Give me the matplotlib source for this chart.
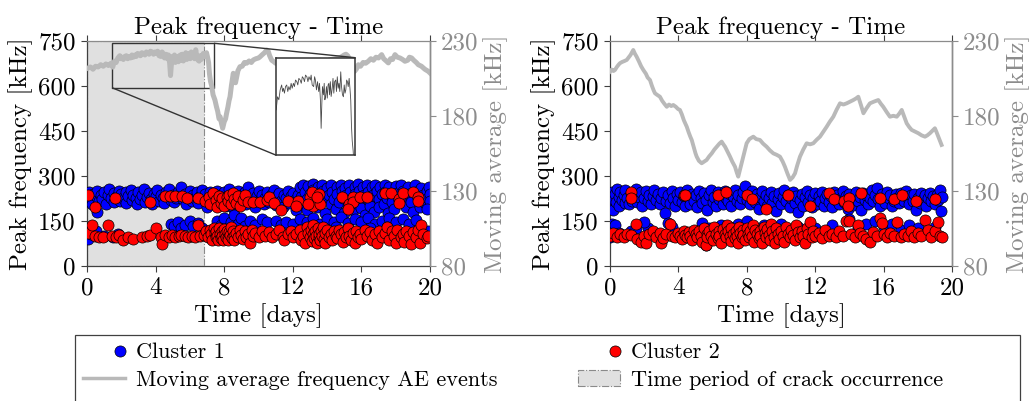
import numpy as np
import matplotlib
matplotlib.use("Agg")
import matplotlib.pyplot as plt
from matplotlib.lines import Line2D
from matplotlib.patches import Patch, Rectangle
from matplotlib.legend_handler import HandlerLine2D
from mpl_toolkits.axes_grid1.inset_locator import mark_inset

plt.rcParams['font.family'] = ['cmr10', 'DejaVu Serif']
plt.rcParams['axes.unicode_minus'] = False

# ---------------- data ----------------
x_ticks = [0, 4, 8, 12, 16, 20]
left_ticks = [0, 150, 300, 450, 600, 750]
right_ticks = [80, 130, 180, 230]
crack_period = [0.0, 6.8]
inset_xlim = [1.46, 7.4]
inset_ylim = [198.7, 228.3]

# Left panel, cluster 1 (blue)
left_c1 = [
    (0.0,230),(0.05,215),(0.1,245),(0.2,225),(0.3,205),(0.35,240),(0.5,232),(0.6,250),(0.7,215),(0.8,238),
    (0.9,222),(1.0,248),(1.1,208),(1.2,235),(1.3,255),(1.4,225),(1.55,242),(1.6,212),(1.7,230),(1.85,250),
    (1.9,218),(2.0,240),(2.1,226),(2.25,210),(2.3,245),(2.4,232),(2.55,252),(2.6,220),(2.7,238),(2.85,228),
    (2.9,208),(3.0,248),(3.1,222),(3.2,236),(3.35,255),(3.4,214),(3.5,230),(3.6,244),(3.75,224),(3.8,205),
    (3.9,240),(4.0,232),(4.1,252),(4.2,218),(4.3,238),(4.45,226),(4.5,210),(4.6,246),(4.7,232),(4.8,255),
    (4.9,220),(5.0,238),(5.1,212),(5.2,228),(5.3,248),(5.4,232),(5.5,262),(5.6,222),(5.7,240),(5.8,205),
    (5.9,230),(6.0,250),(6.1,218),(6.2,236),(6.3,226),(6.4,246),(6.5,210),(6.6,232),(6.7,252),(6.8,222),
    (6.9,240),(7.0,196),(7.1,230),(7.2,248),(7.3,210),(7.4,236),(7.5,222),(7.6,250),(7.7,205),(7.8,238),
    (7.9,228),(8.0,245),(8.1,200),(8.2,232),(8.3,255),(8.4,218),(8.5,240),(8.6,190),(8.7,228),(8.8,250),
    (8.9,214),(9.0,236),(9.1,224),(9.2,246),(9.3,205),(9.4,262),(9.5,230),(9.6,216),(9.7,242),(9.8,198),
    (9.9,232),(10.0,250),(10.1,220),(10.2,238),(10.3,208),(10.4,228),(10.5,248),(10.6,214),(10.7,236),(10.8,224),
    (10.9,252),(11.0,204),(11.1,232),(11.2,242),(11.3,218),(11.4,196),(11.5,238),(11.6,226),(11.7,250),(11.8,210),
    (11.9,234),(12.0,244),(12.1,220),(12.2,186),(12.3,238),
    (12.4,262),(12.5,230),(12.55,205),(12.6,270),(12.7,248),(12.8,222),(12.85,185),(12.9,265),(13.0,240),(13.1,212),
    (13.15,272),(13.2,252),(13.3,228),(13.4,195),(13.45,262),(13.5,240),(13.6,215),(13.7,268),(13.75,250),(13.8,228),
    (13.9,178),(14.0,260),(14.1,238),(14.2,205),(14.25,270),(14.3,248),(14.4,222),(14.5,190),(14.55,262),(14.6,240),
    (14.7,212),(14.8,270),(14.85,250),(14.9,228),(15.0,175),(15.05,258),(15.1,236),(15.2,200),(15.3,268),(15.35,246),
    (15.4,220),(15.5,185),(15.6,264),(15.65,240),(15.7,210),(15.8,272),(15.85,250),(15.9,226),(16.0,192),(16.1,262),
    (16.15,238),(16.2,170),(16.3,268),(16.4,246),(16.45,218),(16.5,200),(16.6,262),(16.7,236),(16.75,180),(16.8,270),
    (16.9,250),(17.0,222),(17.05,195),(17.1,262),(17.2,240),(17.3,208),(17.35,268),(17.4,246),(17.5,226),(17.55,175),
    (17.6,262),(17.7,236),(17.8,212),(17.9,190),(18.0,266),(18.1,244),(18.2,220),(18.3,270),(18.4,250),(18.5,228),
    (18.6,198),(18.7,262),(18.8,240),(18.9,214),(19.0,180),(19.1,268),(19.2,246),(19.3,225),(19.4,195),(19.5,260),
    (19.6,236),(19.7,210),(19.8,250),(19.9,228),(19.95,262),(20.0,240),(20.0,215),(19.85,190),
    (0.0,120),(0.05,90),(0.25,105),(0.5,115),(1.0,100),(1.5,95),(0.6,180),(1.8,108),(4.9,140),(5.1,132),
    (5.3,146),(5.5,128),(5.7,138),(6.0,150),(6.2,132),(6.5,142),(6.7,128),(7.6,150),(7.8,135),(8.0,160),
    (8.2,128),(8.4,145),(8.6,170),(8.8,140),(9.0,160),(9.2,132),(9.5,150),(9.8,138),(10.2,155),(10.5,145),
    (11.0,150),(11.3,138),(11.6,145),(12.0,140),(12.4,155),(12.8,145),(13.2,160),(13.6,140),(14.0,155),(14.4,148),
    (14.8,162),(15.2,142),(15.6,155),(16.0,145),(16.4,160),(16.8,140),(17.2,150),(17.6,160),(18.0,145),(18.4,155),
    (18.8,140),(19.2,152),(19.9,118),(13.0,120),(14.5,130),(16.5,125),(17.5,130),
]

# Left panel, cluster 2 (red)
left_c2 = [
    (0.05,110),(0.3,137),(0.45,100),(0.7,95),(0.95,98),(1.25,137),(1.45,100),(1.7,95),(1.85,103),(2.1,87),
    (2.4,95),(2.7,90),(3.2,98),(3.5,100),(3.7,103),(4.05,125),(4.3,95),(4.4,73),(4.55,103),(4.8,98),
    (4.95,102),(5.15,96),(5.35,100),(5.5,104),(5.7,99),(5.9,97),(6.1,101),(6.3,96),(6.45,138),(6.6,100),
    (6.8,104),(6.95,115),(7.05,95),(7.15,120),(7.25,105),(7.3,88),(7.4,128),(7.45,110),(7.5,95),(7.55,118),
    (7.6,100),(7.65,85),(7.7,125),(7.75,108),(7.8,92),(7.85,115),(7.9,100),(7.95,88),(8.0,122),(8.05,105),
    (8.1,95),(8.15,115),(8.2,98),(8.25,85),(8.3,112),(8.35,102),(8.4,130),(8.45,92),(8.5,118),(8.55,100),
    (8.6,88),(8.7,110),(8.8,96),(8.9,120),(9.0,102),(9.1,90),(9.2,115),(9.3,98),(9.4,108),(9.5,78),
    (9.6,120),(9.7,100),(9.8,110),(10.0,95),(10.2,118),(10.4,100),(10.6,112),(10.8,95),(11.0,105),(11.2,120),
    (11.4,98),(11.5,88),(11.7,108),(11.9,115),(12.0,95),(12.2,105),(12.4,120),(12.5,85),(12.6,100),(12.7,75),
    (12.8,130),(12.9,110),(13.0,95),(13.05,120),(13.1,82),(13.15,105),(13.2,138),(13.25,92),(13.3,115),(13.35,100),
    (13.4,78),(13.45,125),(13.5,95),(13.55,108),(13.6,85),(13.65,118),(13.7,100),(13.75,130),(13.8,90),(13.85,110),
    (13.9,75),(14.0,120),(14.1,98),(14.2,108),(14.3,85),(14.4,115),(14.5,100),(14.6,92),(14.7,120),(14.8,105),
    (14.9,80),(15.0,112),(15.1,95),(15.2,125),(15.3,100),(15.4,88),(15.5,110),(15.6,78),(15.7,118),(15.8,98),
    (15.9,108),(16.0,90),(16.2,120),(16.3,100),(16.5,112),(16.6,85),(16.8,105),(16.9,75),(17.0,118),(17.2,98),
    (17.4,110),(17.5,130),(17.6,88),(17.8,115),(17.9,100),(18.0,75),(18.1,120),(18.3,95),(18.4,108),(18.5,80),
    (18.6,118),(18.8,100),(18.9,72),(19.0,112),(19.2,95),(19.3,120),(19.4,78),(19.5,135),(19.6,105),(19.8,92),
    (19.9,100),
    (0.08,237),(0.47,198),(1.63,227),(3.67,214),(4.55,233),(4.84,233),(5.13,233),(5.52,233),(5.81,227),(6.49,227),
    (6.9,215),(7.1,230),(7.2,205),(7.37,242),(7.5,220),(7.6,195),(7.7,232),(7.8,210),(7.9,225),(8.0,200),
    (8.14,231),(8.2,215),(8.3,238),(8.4,205),(8.5,242),(8.6,222),(8.7,210),(8.8,232),(8.9,200),(9.1,220),
    (9.2,235),(9.4,212),(9.7,214),(10.1,214),(10.5,220),(10.6,231),(10.9,209),(11.3,187),(11.7,218),(12.3,218),
    (12.2,200),(13.0,231),(13.1,248),(13.2,200),(13.5,241),(12.9,208),(13.6,208),(14.85,231),(15.3,208),(15.5,231),
    (15.5,214),(15.2,190),(15.9,231),(16.3,231),(17.4,244),(17.7,244),(18.2,224),(18.2,210),(18.4,244),(19.0,248),
    (19.3,231),(19.3,218),(13.4,230),
]

# Right panel, cluster 1 (blue)
right_c1 = [
    (0.0,230),(0.05,205),(0.1,248),(0.15,185),(0.2,222),(0.3,240),(0.35,212),(0.4,255),(0.5,230),(0.55,200),
    (0.6,245),(0.7,220),(0.8,238),(0.85,210),(0.9,252),(1.0,228),(1.1,205),(1.2,242),(1.3,218),(1.4,235),
    (1.5,255),(1.6,212),(1.7,230),(1.8,245),(1.9,200),(2.0,225),(2.1,250),(2.2,215),(2.3,238),(2.4,208),
    (2.5,232),(2.6,252),(2.7,220),(2.8,240),(2.9,205),(3.0,228),(3.1,248),(3.2,175),(3.3,218),(3.4,236),
    (3.5,210),(3.6,250),(3.7,226),(3.8,200),(3.9,240),(4.0,220),(4.1,246),(4.2,212),(4.3,232),(4.4,200),
    (4.5,252),(4.6,225),(4.7,208),(4.8,240),(4.9,218),(5.0,235),(5.1,195),(5.2,250),(5.3,225),(5.4,210),
    (5.5,242),(5.6,220),(5.7,185),(5.8,236),(5.9,252),(6.0,214),(6.1,230),(6.2,200),(6.3,246),(6.4,222),
    (6.5,238),(6.6,206),(6.7,250),(6.8,228),(6.9,215),(7.0,240),(7.1,200),(7.2,232),(7.3,252),(7.4,218),
    (7.5,236),(7.6,208),(7.7,228),(7.8,245),(7.9,265),(8.0,220),(8.1,238),(8.2,205),(8.3,250),(8.4,226),
    (8.5,212),(8.6,240),(8.7,190),(8.8,230),(8.9,250),(9.0,215),(9.1,236),(9.2,200),(9.3,228),(9.4,246),
    (9.5,210),(9.6,232),(9.7,182),(9.8,222),(9.9,242),(10.0,205),(10.1,230),(10.2,252),(10.3,215),(10.4,238),
    (10.5,195),(10.6,226),(10.7,248),(10.8,210),(10.9,232),(11.0,180),(11.1,220),(11.2,240),(11.3,200),(11.4,230),
    (11.5,250),(11.6,214),(11.7,236),(11.8,195),(11.9,226),(12.0,244),(12.1,208),(12.2,232),(12.3,218),(12.4,248),
    (12.5,200),(12.6,228),(12.7,240),(12.8,212),(12.9,232),(13.0,195),(13.1,246),(13.2,220),(13.3,236),(13.4,205),
    (13.5,228),(13.6,250),(13.7,214),(13.8,234),(13.9,190),(14.0,240),(14.1,222),(14.2,204),(14.3,232),(14.4,248),
    (14.5,215),(14.6,230),(14.7,185),(14.8,242),(14.9,220),(15.0,236),(15.1,205),(15.2,228),(15.3,252),(15.4,215),
    (15.5,238),(15.6,258),(15.7,222),(15.8,200),(15.9,240),(16.0,228),(16.1,210),(16.2,246),(16.3,225),(16.4,236),
    (16.5,200),(16.6,218),(16.7,240),(16.8,226),(16.9,210),(17.0,244),(17.1,230),(17.2,215),(17.3,250),(17.4,226),
    (17.5,205),(17.6,236),(17.7,218),(17.8,240),(17.9,185),(18.0,228),(18.1,210),(18.2,244),(18.3,222),(18.4,235),
    (18.5,200),(18.6,228),(18.7,242),(18.8,215),(18.9,232),(19.0,205),(19.1,238),(19.2,220),(19.3,252),(19.35,182),
    (19.4,230),
    (0.0,98),(0.05,115),(0.1,140),(0.3,137),(0.5,110),(1.2,115),(1.5,125),(2.2,126),(2.0,145),(3.4,143),
    (3.6,130),(5.4,143),(5.6,70),(5.8,125),(6.5,135),(7.0,130),(7.5,140),(8.0,150),(8.5,125),(9.0,135),
    (10.0,140),(11.0,130),(12.0,125),(13.0,135),(14.0,155),(14.5,125),(15.0,140),(15.5,150),(16.0,130),(16.5,140),
    (17.0,120),(17.5,135),(18.0,125),(18.5,110),(19.0,130),
]

# Right panel, cluster 2 (red)
right_c2 = [
    (0.0,100),(0.2,110),(0.4,95),(0.6,105),(0.8,98),(1.0,105),(1.2,102),(1.5,140),(1.6,90),(1.8,80),
    (2.0,100),(2.1,75),(2.3,105),(2.5,115),(2.7,98),(2.9,110),(3.0,75),(3.1,92),(3.3,105),(3.5,140),
    (3.6,100),(3.8,95),(4.0,110),(4.1,100),(4.2,90),(4.3,118),(4.4,104),(4.5,95),(4.6,112),(4.7,100),
    (4.8,85),(4.9,120),(5.0,105),(5.1,95),(5.2,115),(5.3,100),(5.4,80),(5.5,125),(5.6,70),(5.65,108),
    (5.7,95),(5.8,118),(5.9,100),(6.0,85),(6.1,130),(6.2,105),(6.3,92),(6.35,118),(6.4,100),(6.5,78),
    (6.6,122),(6.7,108),(6.8,95),(6.85,135),(6.9,115),(7.0,100),(7.05,82),(7.1,125),(7.2,105),(7.3,92),
    (7.35,118),(7.4,100),(7.5,75),(7.55,130),(7.6,110),(7.7,95),(7.75,120),(7.8,102),(7.9,85),(8.0,125),
    (8.05,108),(8.1,95),(8.2,115),(8.3,100),(8.35,135),(8.4,80),(8.5,120),(8.6,105),(8.7,92),(8.75,118),
    (8.8,100),(8.9,78),(9.0,130),(9.05,110),(9.1,95),(9.2,122),(9.3,102),(9.35,85),(9.4,140),(9.5,115),
    (9.6,98),(9.65,75),(9.7,125),(9.8,105),(9.9,90),(10.0,118),(10.1,100),(10.2,80),(10.3,130),(10.4,108),
    (10.5,95),(10.6,120),(10.7,102),(10.8,85),(10.9,135),(11.0,112),(11.1,95),(11.2,118),(11.3,100),(11.4,78),
    (11.5,125),(11.6,105),(11.7,148),(11.8,95),(11.9,115),(12.0,100),(12.2,110),(12.4,92),(12.6,120),(12.8,100),
    (13.0,108),(13.2,95),(13.4,115),(13.6,100),(13.8,150),(14.0,150),(14.1,105),(14.3,95),(14.5,137),(14.6,110),
    (14.8,100),(15.0,90),(15.2,80),(15.4,112),(15.6,100),(15.8,159),(15.9,142),(16.0,105),(16.2,95),(16.4,110),
    (16.6,100),(16.8,148),(17.0,95),(17.2,108),(17.4,100),(17.6,115),(17.8,95),(18.0,110),(18.2,100),(18.4,153),
    (18.6,120),(18.8,95),(19.0,115),(19.2,148),(19.3,100),(19.4,95),
    (1.2,248),(1.2,227),(4.3,238),(4.4,235),(6.3,238),(6.8,248),(8.0,238),(8.3,222),(9.1,189),(10.4,238),
    (11.7,200),(12.8,242),(13.1,222),(13.7,218),(14.0,227),(13.9,200),(14.7,242),(15.8,227),(16.6,222),(17.1,238),
    (17.9,218),(19.0,222),
]

# Moving averages (right axis, kHz)
left_ma = [
    (0.0,211.5),(0.2,212.5),(0.35,211),(0.5,213),(0.65,212.5),(0.8,214),(0.95,213),(1.1,214.5),(1.25,213.5),(1.4,215),
    (1.5,212.4),(1.6,216.4),(1.7,215.5),(1.8,218.5),(1.91,220),(1.98,218),(2.04,219),(2.12,217.5),(2.2,219.5),(2.29,220),
    (2.37,218),(2.45,219.5),(2.54,218.5),(2.62,220.5),(2.7,219),(2.79,220.5),(2.87,219.5),(2.95,221.5),(3.05,221),(3.12,220),
    (3.2,222),(3.3,221.5),(3.38,220.5),(3.46,222.5),(3.55,222),(3.62,221),(3.7,223),(3.8,222.5),(3.88,221),(3.96,222.5),
    (4.06,221.5),(4.12,223),(4.2,220),(4.31,219.5),(4.38,222.5),(4.44,221.5),(4.52,218.5),(4.6,221),(4.69,218),(4.75,220.5),
    (4.82,215),(4.87,206.8),(4.92,214),(4.97,219.5),(5.04,217),(5.1,220.5),(5.15,215.5),(5.2,216.4),(5.27,219.5),(5.33,216),
    (5.39,220),(5.45,220.5),(5.5,217),(5.56,221),(5.62,216.5),(5.7,219),(5.76,222),(5.82,217.5),(5.88,221),(5.96,221.5),
    (6.02,218),(6.08,222.5),(6.15,219),(6.21,220.5),(6.27,218),(6.34,224),(6.4,219.5),(6.47,217),(6.54,216.4),(6.6,220),
    (6.66,217.5),(6.72,218.5),(6.78,221.5),(6.84,221),(6.9,219.5),(6.97,222),(7.03,219),(7.09,215.4),(7.14,208),(7.2,203),
    (7.27,200),(7.35,194),(7.46,190.5),(7.55,186),(7.62,183),(7.7,178),(7.76,179.4),(7.84,175),(7.91,171.7),(8.0,176),
    (8.08,178),(8.14,181.7),(8.22,186),(8.28,190),(8.34,192.7),(8.42,200),(8.5,206),(8.53,208.3),(8.6,204),(8.66,202),
    (8.73,206),(8.8,210),(8.92,212.7),(9.05,213),(9.18,215.5),(9.31,215),(9.45,216.5),(9.58,215.5),(9.7,217.2),(9.85,218),
    (10.0,218.5),(10.09,219.3),(10.2,220.5),(10.35,222),(10.48,223.8),(10.57,222.9),(10.65,220),(10.77,217),(10.9,216),(11.0,215),
    (11.2,214.5),(11.5,215.5),(11.8,214),(12.1,215),(12.4,216),(12.7,215),(13.0,216.5),(13.3,215.5),(13.6,217),(13.9,216),
    (14.2,217.5),(14.5,218),(14.8,219),(15.0,220.5),(15.1,221),(15.2,220),(15.35,217),(15.5,212),(15.6,209.6),(15.7,211),
    (15.82,214),(15.95,213),(16.1,215.5),(16.25,215),(16.4,216.3),(16.55,218),(16.7,217),(16.85,219),(17.0,218.5),(17.18,220.7),
    (17.3,218),(17.45,216.5),(17.57,215.2),(17.7,218),(17.82,217.5),(17.96,220.7),(18.1,219),(18.25,218.5),(18.4,217.5),(18.54,216.3),
    (18.7,217),(18.8,219),(18.93,218.5),(19.05,217),(19.2,215.5),(19.32,214),(19.5,213),(19.7,211),(19.9,209.6),(20.0,208.5),
]

right_ma = [
    (0.0,209.4),(0.1,210.8),(0.2,209.8),(0.29,210.5),(0.4,212.5),(0.5,214),(0.58,215),(0.7,215.8),(0.85,216.5),(0.98,217.2),
    (1.1,219),(1.2,220.5),(1.3,222.5),(1.36,223.8),(1.45,221.5),(1.56,219.3),(1.7,216),(1.82,213),(1.95,210.5),(2.1,208),
    (2.2,205.5),(2.34,203.8),(2.45,200),(2.55,197),(2.63,195),(2.75,194),(2.92,192.7),(3.05,190),(3.18,188),(3.32,186),
    (3.45,187.5),(3.58,186.5),(3.7,187.2),(3.85,186),(3.98,184.5),(4.09,183.9),(4.2,181),(4.32,177),(4.49,172.7),(4.6,169),
    (4.7,166),(4.78,163.9),(4.9,159),(5.0,155),(5.07,152.8),(5.2,150),(5.36,148.4),(5.5,149.5),(5.65,150.6),(5.8,153),
    (5.95,155),(6.1,157.5),(6.24,159.4),(6.4,161.5),(6.53,162.8),(6.63,161),(6.73,159.4),(6.88,156),(7.02,152.8),(7.15,149.5),
    (7.31,146.1),(7.42,142),(7.5,139.5),(7.6,144),(7.7,148.4),(7.85,155),(7.99,161.7),(8.15,164.5),(8.38,166.1),(8.55,164.5),
    (8.77,163.9),(8.95,161.5),(9.16,159.4),(9.35,157),(9.55,155),(9.75,154),(9.94,152.8),(10.1,149.5),(10.23,146.1),(10.38,141.5),
    (10.53,137.3),(10.68,139),(10.82,141.7),(10.95,147),(11.11,152.8),(11.3,157.5),(11.5,161.7),(11.7,161),(11.89,161.7),(12.08,164),
    (12.28,166.1),(12.48,169.5),(12.67,172.7),(12.85,176),(13.06,179.4),(13.25,184),(13.45,188.3),(13.65,187.5),(13.84,188.3),(14.05,189.5),
    (14.23,190.5),(14.38,191.5),(14.52,192.7),(14.68,187),(14.82,181.7),(15.0,185),(15.2,188.3),(15.45,189.5),(15.69,190.5),(15.84,188),
    (15.98,186),(16.18,182.5),(16.37,179.4),(16.57,180),(16.77,179.4),(16.92,181.5),(17.06,183.9),(17.2,179.5),(17.35,175),(17.5,172.5),
    (17.64,170.6),(17.84,169.5),(18.03,168.4),(18.22,167),(18.42,166.1),(18.56,167),(18.71,168.4),(18.85,170),(19.0,171.7),(19.1,169),
    (19.2,166.1),(19.3,163),(19.39,160.6),
]

legend_labels = ['Cluster 1', 'Moving average frequency AE events',
                 'Cluster 2', 'Time period of crack occurrence']

# ---------------- styling ----------------
BLUE = '#0000ff'
RED = '#ff0000'
MA_COLOR = '#b9b9b9'
AX_COLOR = '#404040'
GREY_AX = '#8c8c8c'
FS = 18
MS = 64


def unzip(pairs):
    a = np.array(pairs, dtype=float)
    return a[:, 0], a[:, 1]


fig = plt.figure(figsize=(10.30, 4.01), dpi=100)

W, H = 1030.0, 401.0
axL = fig.add_axes([87 / W, 135 / H, 343 / W, 225.3 / H])
axR = fig.add_axes([610 / W, 135 / H, 342 / W, 225.3 / H])


def style_panel(ax, c1, c2, ma, ma_lw, shade=False):
    if shade:
        ax.axvspan(crack_period[0], crack_period[1], facecolor='#e0e0e0',
                   edgecolor='#8a8a8a', linestyle='-.', linewidth=0.8, zorder=0)
    x1, y1 = unzip(c1)
    x2, y2 = unzip(c2)
    ax.scatter(x1, y1, s=MS, c=BLUE, edgecolors='k', linewidths=0.5, zorder=3)
    ax.scatter(x2, y2, s=MS, c=RED, edgecolors='k', linewidths=0.5, zorder=4)
    ax.set_xlim(0, 20)
    ax.set_ylim(0, 750)
    ax.set_xticks(x_ticks, [str(t) for t in x_ticks])
    ax.set_yticks(left_ticks, [str(t) for t in left_ticks])
    ax.tick_params(axis='both', direction='out', length=4, width=0.8, labelsize=FS,
                   colors='black', pad=4)
    ax.tick_params(axis='x', top=True, labeltop=False, color=AX_COLOR)
    ax.tick_params(axis='y', color=AX_COLOR)
    ax.spines['left'].set_color(AX_COLOR)
    ax.spines['bottom'].set_color(AX_COLOR)
    ax.spines['top'].set_color(GREY_AX)
    for s in ax.spines.values():
        s.set_linewidth(0.9)
    ax.set_title('Peak frequency - Time', fontsize=FS, pad=5)
    ax.set_xlabel('Time [days]', fontsize=FS, labelpad=3)
    ax.set_ylabel('Peak frequency [kHz]', fontsize=FS, labelpad=4)

    ax2 = ax.twinx()
    mx, my = unzip(ma)
    ax2.plot(mx, my, color=MA_COLOR, lw=ma_lw, solid_joinstyle='round', zorder=2)
    ax2.set_ylim(80, 230)
    ax2.set_yticks(right_ticks, [str(t) for t in right_ticks])
    ax2.tick_params(axis='y', direction='out', length=4, width=0.8, labelsize=FS,
                    colors=GREY_AX, pad=4)
    ax2.spines['right'].set_color(GREY_AX)
    ax2.spines['right'].set_linewidth(0.9)
    for k in ['left', 'bottom', 'top']:
        ax2.spines[k].set_visible(False)
    ax2.set_ylabel('Moving average [kHz]', fontsize=FS, color=GREY_AX, labelpad=3)
    return ax2, mx, my


axL2, lmx, lmy = style_panel(axL, left_c1, left_c2, left_ma, 3.6, shade=True)
axR2, _, _ = style_panel(axR, right_c1, right_c2, right_ma, 2.8)

# Inset zoom on the left panel
axins = axL2.inset_axes([0.550, 0.4927, 0.231, 0.432])
axins.plot(lmx, lmy, color='#4a4a4a', lw=0.6)
axins.set_xlim(*inset_xlim)
axins.set_ylim(*inset_ylim)
axins.set_xticks([])
axins.set_yticks([])
for s in axins.spines.values():
    s.set_color('#333333')
    s.set_linewidth(1.1)
mark_inset(axL2, axins, loc1=1, loc2=3, fc='none', ec='#333333', lw=1.0)


# ---------------- legend ----------------
class RightMarkerHandler(HandlerLine2D):
    """Place the single legend marker near the right end of the handle box."""
    def get_xdata(self, legend, xdescent, ydescent, width, height, fontsize):
        # HandlerLine2D puts the marker at the middle of xdata[0]..xdata[-1]
        xdata = np.array([-xdescent + 0.76 * width, -xdescent + width])
        return xdata, xdata


h1 = Line2D([], [], marker='o', ls='none', markerfacecolor=BLUE, markeredgecolor='k',
            markeredgewidth=0.5, markersize=8)
h2 = Line2D([], [], marker='o', ls='none', markerfacecolor=RED, markeredgecolor='k',
            markeredgewidth=0.5, markersize=8)
h3 = Line2D([], [], color=MA_COLOR, lw=2.5)
h4 = Patch(facecolor='#e0e0e0', edgecolor='#8a8a8a', linestyle='-.', linewidth=0.8)

LEG_FS = 16
col_gap_px = 80.0
leg = fig.legend([h1, h3, h2, h4], legend_labels,
                 ncol=2, loc='upper left',
                 bbox_to_anchor=(75 / W, 1 - 335 / H),
                 borderaxespad=0.0, fontsize=LEG_FS, handlelength=1.9, handletextpad=0.5,
                 columnspacing=col_gap_px / (LEG_FS * 100 / 72.0),
                 labelspacing=0.35, borderpad=0.35, frameon=False,
                 handler_map={h1: RightMarkerHandler(), h2: RightMarkerHandler()})

frame = Rectangle((75 / W, -0.02), 945 / W, (401 - 335) / H + 0.02,
                  transform=fig.transFigure, facecolor='none',
                  edgecolor='#404040', linewidth=0.9, zorder=0)
fig.patches.append(frame)

fig.savefig('out.png', dpi=100)
